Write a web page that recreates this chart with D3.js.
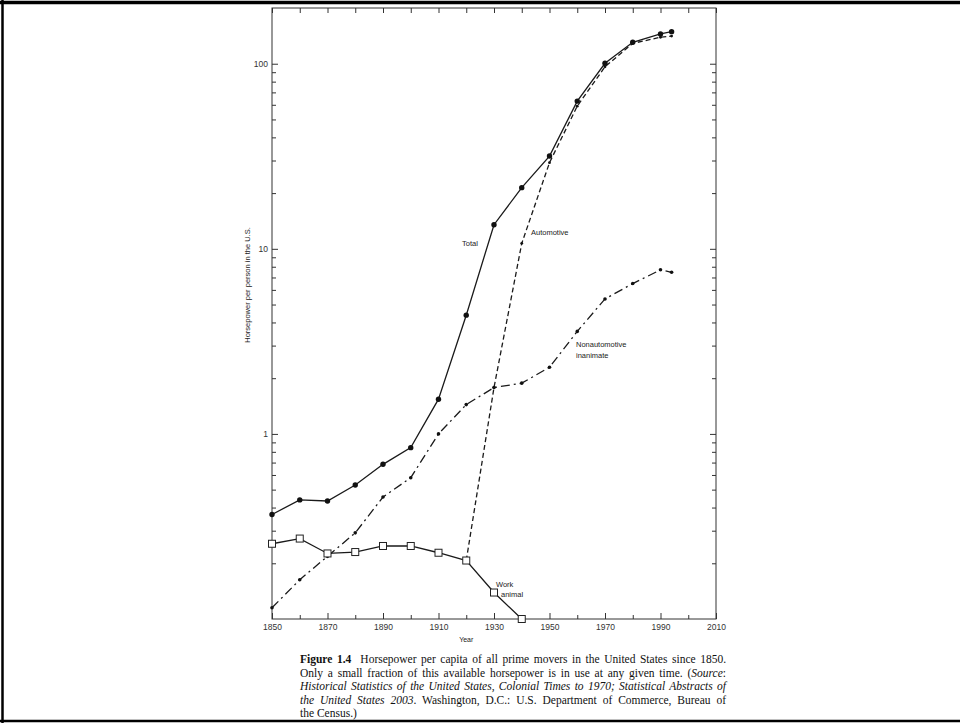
<!DOCTYPE html>
<html>
<head>
<meta charset="utf-8">
<script src="https://cdn.jsdelivr.net/npm/d3@7"></script>
<style>
  body { margin: 0; background: #fff; }
  svg { display: block; }
  .axis path { display: none; }
  .axis line { stroke: #333; stroke-width: 1; }
  .axis text { font-family: "Liberation Sans", Arial, sans-serif; font-size: 8.5px; fill: #333; }
  .note { font-family: "Liberation Sans", Arial, sans-serif; font-size: 7.5px; fill: #222; }
  .caption { font-family: "Liberation Serif", "Times New Roman", serif; font-size: 11.5px; fill: #111; }
</style>
</head>
<body>
<div id="chart"></div>
<script>
// Data (horsepower per person, log scale)
var years = [1850, 1860, 1870, 1880, 1890, 1900, 1910, 1920, 1930, 1940, 1950, 1960, 1970, 1980, 1990, 1994];
var totalHp = [0.367, 0.44, 0.434, 0.53, 0.685, 0.843, 1.54, 4.38, 13.5, 21.4, 31.7, 62.8, 100.5, 130.6, 144.8, 149];
var nonautoHp = [0.115, 0.163, 0.218, 0.292, 0.456, 0.58, 1.0, 1.44, 1.78, 1.88, 2.29, 3.58, 5.36, 6.49, 7.7, 7.47];

var autoYears = [1920, 1930, 1940, 1950, 1960, 1970, 1980, 1990, 1994];
var autoHp = [0.207, 1.78, 10.7, 29.2, 59, 96.3, 128.8, 139, 141];

var workYears = [1850, 1860, 1870, 1880, 1890, 1900, 1910, 1920, 1930, 1940];
var workHp = [0.255, 0.272, 0.226, 0.23, 0.248, 0.248, 0.228, 0.207, 0.139, 0.1];

var xLabelTicks = [1850, 1870, 1890, 1910, 1930, 1950, 1970, 1990, 2010];
var xMinorTicks = [1860, 1880, 1900, 1920, 1940, 1960, 1980, 2000];
var yLabelTicks = [1, 10, 100];

// Set up the SVG and the plot box
var svgWidth = 960;
var svgHeight = 723;

var margin = { top: 8, right: 244, bottom: 104, left: 272 };
var width = svgWidth - margin.left - margin.right;
var height = svgHeight - margin.top - margin.bottom;

var svg = d3.select("#chart")
  .append("svg")
  .attr("width", svgWidth)
  .attr("height", svgHeight);

// page border (top, left, bottom as in the scan)
svg.append("line").attr("x1", 0).attr("x2", svgWidth).attr("y1", 2.5).attr("y2", 2.5)
  .attr("stroke", "#000").attr("stroke-width", 3.5);
svg.append("line").attr("x1", 2.5).attr("x2", 2.5).attr("y1", 0).attr("y2", svgHeight)
  .attr("stroke", "#000").attr("stroke-width", 2.5);
svg.append("line").attr("x1", 0).attr("x2", svgWidth).attr("y1", 721).attr("y2", 721)
  .attr("stroke", "#000").attr("stroke-width", 2.5);

var chartGroup = svg.append("g")
  .attr("transform", `translate(${margin.left}, ${margin.top})`);

// Scales
var xScale = d3.scaleLinear()
  .domain([1850, 2010])
  .range([0, width]);

var yScale = d3.scaleLog()
  .domain([0.1, 200])
  .range([height, 0]);

// minor log ticks: 2..9 in every decade
var yMinorTicks = [];
[0.1, 1, 10, 100].forEach(function(dec) {
  d3.range(2, 10).forEach(function(m) {
    var v = +(dec * m).toPrecision(3);
    if (v < 200) yMinorTicks.push(v);
  });
});

// frame
chartGroup.append("rect")
  .attr("width", width)
  .attr("height", height)
  .attr("fill", "none")
  .attr("stroke", "#333")
  .attr("stroke-width", 1);

// Axes (ticks point inward)
chartGroup.append("g").attr("class", "axis")
  .attr("transform", `translate(0, ${height})`)
  .call(d3.axisBottom(xScale).tickValues(xLabelTicks).tickSizeInner(-6).tickSizeOuter(0)
    .tickPadding(5).tickFormat(d3.format("d")));
chartGroup.append("g").attr("class", "axis")
  .attr("transform", `translate(0, ${height})`)
  .call(d3.axisBottom(xScale).tickValues(xMinorTicks).tickSize(-4).tickFormat(""));

chartGroup.append("g").attr("class", "axis")
  .call(d3.axisTop(xScale).tickValues(xLabelTicks.concat(xMinorTicks)).tickSize(-5).tickFormat(""));

chartGroup.append("g").attr("class", "axis")
  .call(d3.axisLeft(yScale).tickValues(yLabelTicks).tickSizeInner(-6).tickSizeOuter(0)
    .tickPadding(4).tickFormat(d3.format("d")));
chartGroup.append("g").attr("class", "axis")
  .call(d3.axisLeft(yScale).tickValues(yMinorTicks).tickSize(-4).tickFormat(""));

chartGroup.append("g").attr("class", "axis")
  .attr("transform", `translate(${width}, 0)`)
  .call(d3.axisRight(yScale).tickValues(yLabelTicks).tickSize(-6).tickFormat(""));
chartGroup.append("g").attr("class", "axis")
  .attr("transform", `translate(${width}, 0)`)
  .call(d3.axisRight(yScale).tickValues(yMinorTicks).tickSize(-4).tickFormat(""));

// Axis titles
chartGroup.append("text")
  .attr("class", "note")
  .attr("transform", "rotate(-90)")
  .attr("x", -277)
  .attr("y", -22)
  .attr("text-anchor", "middle")
  .text("Horsepower per person in the U.S.");

chartGroup.append("text")
  .attr("class", "note")
  .attr("x", xScale(1920))
  .attr("y", height + 23)
  .attr("text-anchor", "middle")
  .style("font-size", "7px")
  .text("Year");

// Lines
var line = d3.line()
  .x(d => xScale(d[0]))
  .y(d => yScale(d[1]));

var totalData = d3.zip(years, totalHp);
var nonautoData = d3.zip(years, nonautoHp);
var autoData = d3.zip(autoYears, autoHp);
var workData = d3.zip(workYears, workHp);

chartGroup.append("path").datum(nonautoData)
  .attr("d", line).attr("fill", "none")
  .attr("stroke", "#1a1a1a").attr("stroke-width", 1.3)
  .attr("stroke-dasharray", "9,4,2,4");

chartGroup.append("path").datum(autoData)
  .attr("d", line).attr("fill", "none")
  .attr("stroke", "#1a1a1a").attr("stroke-width", 1.3)
  .attr("stroke-dasharray", "5,3");

chartGroup.append("path").datum(totalData)
  .attr("d", line).attr("fill", "none")
  .attr("stroke", "#1a1a1a").attr("stroke-width", 1.3);

chartGroup.append("path").datum(workData)
  .attr("d", line).attr("fill", "none")
  .attr("stroke", "#1a1a1a").attr("stroke-width", 1.3);

// Markers
chartGroup.selectAll(".dot-nonauto")
  .data(nonautoData)
  .enter()
  .append("circle")
  .attr("class", "dot-nonauto")
  .attr("cx", d => xScale(d[0]))
  .attr("cy", d => yScale(d[1]))
  .attr("r", 1.8)
  .attr("fill", "#111");

chartGroup.selectAll(".dot-auto")
  .data(autoData.slice(1))
  .enter()
  .append("circle")
  .attr("class", "dot-auto")
  .attr("cx", d => xScale(d[0]))
  .attr("cy", d => yScale(d[1]))
  .attr("r", 1.4)
  .attr("fill", "#111");

chartGroup.selectAll(".dot-total")
  .data(totalData)
  .enter()
  .append("circle")
  .attr("class", "dot-total")
  .attr("cx", d => xScale(d[0]))
  .attr("cy", d => yScale(d[1]))
  .attr("r", 2.7)
  .attr("fill", "#111");

chartGroup.selectAll(".sq-work")
  .data(workData)
  .enter()
  .append("rect")
  .attr("class", "sq-work")
  .attr("x", d => xScale(d[0]) - 3.5)
  .attr("y", d => yScale(d[1]) - 3.5)
  .attr("width", 7)
  .attr("height", 7)
  .attr("fill", "#fff")
  .attr("stroke", "#222")
  .attr("stroke-width", 1);

// Series labels
var notes = [
  { t: "Total", x: 190, y: 238 },
  { t: "Automotive", x: 259, y: 227 },
  { t: "Nonautomotive", x: 304, y: 339 },
  { t: "inanimate", x: 304, y: 350 },
  { t: "Work", x: 224, y: 579 },
  { t: "animal", x: 229, y: 589 }
];
chartGroup.selectAll(".lbl")
  .data(notes)
  .enter()
  .append("text")
  .attr("class", "note")
  .attr("x", d => d.x)
  .attr("y", d => d.y)
  .text(d => d.t);

// Caption
var capX = 300, capW = 426;
var caption = [
  [["Figure 1.4", "b"], ["  Horsepower per capita of all prime movers in the United States since 1850.", ""]],
  [["Only a small fraction of this available horsepower is in use at any given time. (", ""], ["Source", "i"], [":", ""]],
  [["Historical Statistics of the United States, Colonial Times to 1970; Statistical Abstracts of", "i"]],
  [["the United States 2003", "i"], [". Washington, D.C.: U.S. Department of Commerce, Bureau of", ""]],
  [["the Census.)", ""]]
];
caption.forEach(function(parts, i) {
  var t = svg.append("text")
    .attr("class", "caption")
    .attr("x", capX)
    .attr("y", 663 + i * 13.6)
    .attr("xml:space", "preserve");
  parts.forEach(function(p) {
    t.append("tspan")
      .style("font-weight", p[1] === "b" ? "bold" : "normal")
      .style("font-style", p[1] === "i" ? "italic" : "normal")
      .text(p[0]);
  });
  // justify every line except the last
  if (i < caption.length - 1) {
    var w = t.node().getComputedTextLength();
    var gaps = parts.map(p => p[0]).join("").split(" ").length - 1;
    t.style("word-spacing", ((capW - w) / gaps) + "px");
  }
});
</script>
</body>
</html>
